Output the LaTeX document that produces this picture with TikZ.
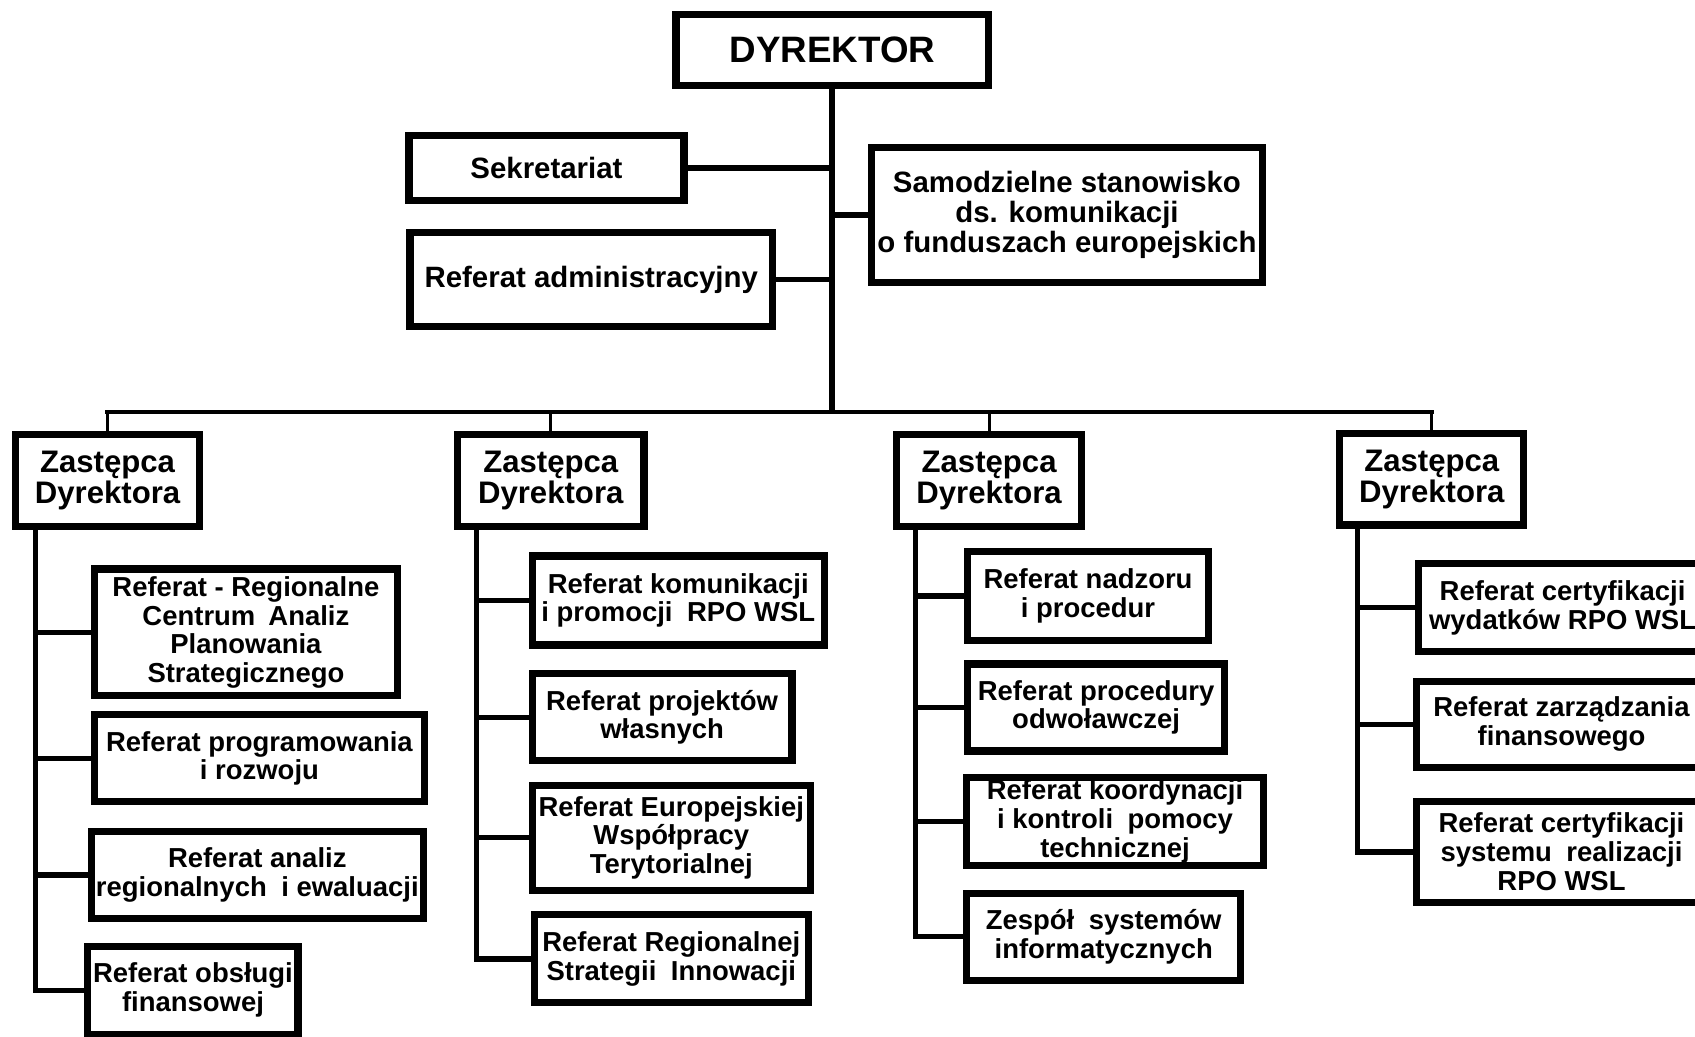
\documentclass[tikz,border=0pt]{standalone}
\usepackage{fontspec}
\setmainfont{Liberation Sans}
% \orgbox{name}{x1}{y1}{x2}{y2}{style}{text}: a framed box given by its outer edges
\newcommand\orgbox[7]{%
  \node[#6, minimum width={(#4-#2-6.6)*0.5pt}, minimum height={(#5-#3-6.6)*0.5pt}]
    (#1) at ({(#2+#4)/2},{(#3+#5)/2}) {#7};}
\begin{document}
\begin{tikzpicture}[x=0.5pt,y=-0.5pt,
  boxed/.style={draw, line width=3.3pt, align=center, inner sep=0pt, fill=white},
  headbox/.style={boxed, font=\fontsize{17}{20}\bfseries\selectfont},
  topbox/.style={boxed, font=\fontsize{13.6}{14}\bfseries\selectfont},
  deputybox/.style={boxed, font=\fontsize{14.4}{14.6}\bfseries\selectfont},
  unitbox/.style={boxed, font=\fontsize{12.7}{13.3}\bfseries\selectfont},
  trunk/.style={line width=2.8pt},
  link/.style={line width=2.5pt},
  bus/.style={line width=2pt, line cap=rect},
  stub/.style={line width=1.5pt}
]
\useasboundingbox (0,0) rectangle (1568,959);
\fill[white] (0,0) rectangle (1568,959);
\clip (0,0) rectangle (1568,959);

% top level
\orgbox{dyr}{622}{10}{918}{82}{headbox}{DYREKTOR}
\orgbox{sek}{375}{122}{636}{189}{topbox}{Sekretariat}
\orgbox{adm}{376}{212}{718}{305}{topbox}{Referat administracyjny}
\orgbox{sam}{803}{133}{1171}{265}{topbox}{Samodzielne stanowisko\\ds. komunikacji\\o funduszach europejskich}

% deputies
\orgbox{z1}{11}{399}{188}{490}{deputybox}{Zastępca\\Dyrektora}
\orgbox{z2}{420}{399}{599}{490}{deputybox}{Zastępca\\Dyrektora}
\orgbox{z3}{826}{399}{1004}{490}{deputybox}{Zastępca\\Dyrektora}
\orgbox{z4}{1236}{398}{1413}{489}{deputybox}{Zastępca\\Dyrektora}

% units, first deputy
\orgbox{r11}{84}{523}{371}{647}{unitbox}{Referat - Regionalne\\Centrum\hspace{0.2em} Analiz\\Planowania\\Strategicznego}
\orgbox{r12}{84}{658}{396}{745}{unitbox}{Referat programowania\\i rozwoju}
\orgbox{r13}{81}{766}{395}{853}{unitbox}{Referat analiz\\regionalnych\hspace{0.25em} i ewaluacji}
\orgbox{r14}{78}{872}{279}{960}{unitbox}{Referat obsługi\\finansowej}

% units, second deputy
\orgbox{r21}{489}{511}{766}{600}{unitbox}{Referat komunikacji\\i promocji\hspace{0.25em} RPO WSL}
\orgbox{r22}{489}{620}{736}{707}{unitbox}{Referat projektów\\własnych}
\orgbox{r23}{489}{723}{753}{827}{unitbox}{Referat Europejskiej\\Współpracy\\Terytorialnej}
\orgbox{r24}{491}{843}{751}{931}{unitbox}{Referat Regionalnej\\Strategii\hspace{0.25em} Innowacji}

% units, third deputy
\orgbox{r31}{892}{507}{1121}{596}{unitbox}{Referat nadzoru\\i procedur}
\orgbox{r32}{892}{611}{1136}{698}{unitbox}{Referat procedury\\odwoławczej}
\orgbox{r33}{891}{716}{1172}{804}{unitbox}{Referat koordynacji\\i kontroli\hspace{0.25em} pomocy\\technicznej}
\orgbox{r34}{891}{823}{1151}{910}{unitbox}{Zespół\hspace{0.25em} systemów\\informatycznych}

% units, fourth deputy
\orgbox{r41}{1309}{518}{1582}{606}{unitbox}{Referat certyfikacji\\wydatków RPO WSL}
\orgbox{r42}{1307}{627}{1582}{713}{unitbox}{Referat zarządzania\\finansowego}
\orgbox{r43}{1307}{738}{1582}{838}{unitbox}{Referat certyfikacji\\systemu\hspace{0.25em} realizacji\\RPO WSL}

% director's trunk, side posts and the bus to the deputies
\coordinate (busy) at (0,381);
\draw[trunk] (dyr.south) -- (dyr.south |- busy);
\draw[link] (sek.east) -- (sek.east -| dyr.south);
\draw[link] (adm.east) -- (adm.east -| dyr.south);
\draw[link] (sam.west -| dyr.south) -- (sam.west);
\draw[bus] (z1.north |- busy) -- (z4.north |- busy);
\foreach \z in {z1,z2,z3,z4}
  \draw[stub] (\z.north |- busy) -- (\z.north);

% vertical spines under each deputy
\coordinate (g1) at (33,0);
\coordinate (g2) at (441,0);
\coordinate (g3) at (847,0);
\coordinate (g4) at (1256,0);
\draw[link] (g1 |- z1.south) -- (g1 |- r14.west) -- (r14.west);
\draw[link] (g2 |- z2.south) -- (g2 |- r24.west) -- (r24.west);
\draw[link] (g3 |- z3.south) -- (g3 |- r34.west) -- (r34.west);
\draw[link] (g4 |- z4.south) -- (g4 |- r43.west) -- (r43.west);
\foreach \b in {r11,r12,r13} \draw[link] (g1 |- \b.west) -- (\b.west);
\foreach \b in {r21,r22,r23} \draw[link] (g2 |- \b.west) -- (\b.west);
\foreach \b in {r31,r32,r33} \draw[link] (g3 |- \b.west) -- (\b.west);
\foreach \b in {r41,r42} \draw[link] (g4 |- \b.west) -- (\b.west);
\end{tikzpicture}
\end{document}
